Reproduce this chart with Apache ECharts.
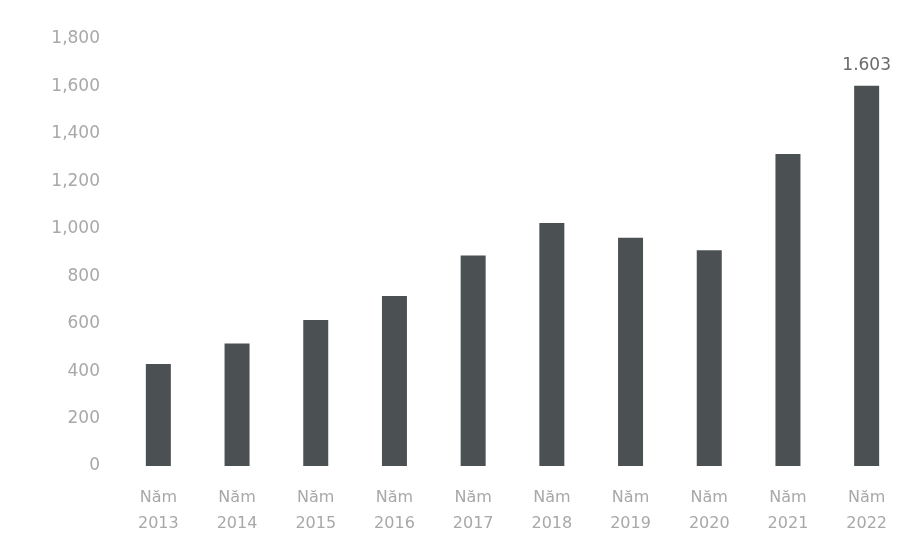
<!DOCTYPE html>
<html>
<head>
<meta charset="utf-8">
<script src="https://cdn.jsdelivr.net/npm/echarts@6/dist/echarts.min.js"></script>
<style>
html,body{margin:0;padding:0;background:#fff;}
#chart{width:901px;height:535px;}
</style>
</head>
<body>
<div id="chart"></div>
<script>
const categories = ["Năm\n2013","Năm\n2014","Năm\n2015","Năm\n2016","Năm\n2017","Năm\n2018","Năm\n2019","Năm\n2020","Năm\n2021","Năm\n2022"];
const values = [430, 516, 615, 717, 887, 1024, 962, 909, 1315, 1603];
const labelledIndex = 9;
const labelText = "1.603";

const chart = echarts.init(document.getElementById('chart'));
chart.setOption({
  backgroundColor: '#ffffff',
  animation: false,
  grid: { left: 119, top: 39, width: 787, height: 427, containLabel: false, outerBoundsMode: 'none' },
  xAxis: {
    type: 'category',
    data: categories,
    axisLine: { show: false },
    axisTick: { show: false },
    axisLabel: { color: '#a8a8a8', fontFamily: 'DejaVu Sans', fontSize: 16, lineHeight: 26, margin: 19 }
  },
  yAxis: {
    type: 'value',
    min: 0, max: 1800, interval: 200,
    splitLine: { show: false },
    axisLine: { show: false },
    axisTick: { show: false },
    axisLabel: {
      color: '#a8a8a8', fontFamily: 'DejaVu Sans', fontSize: 17, margin: 19,
      formatter: v => v.toLocaleString('en-US')
    }
  },
  series: [{
    type: 'bar',
    data: values,
    barWidth: 25,
    itemStyle: { color: '#4b5152' },
    label: {
      show: true, position: 'top', distance: 12,
      color: '#6a6a6a', fontFamily: 'DejaVu Sans', fontSize: 17,
      formatter: p => p.dataIndex === labelledIndex ? labelText : ''
    }
  }]
});
</script>
</body>
</html>
